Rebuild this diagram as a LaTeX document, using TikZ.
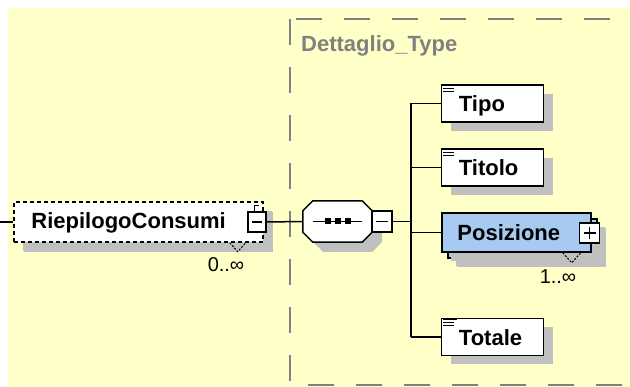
\documentclass[tikz,border=0pt]{standalone}
\usepackage{fontspec}
\setmainfont{Liberation Sans}
\usetikzlibrary{shadows}

\definecolor{bgyellow}{RGB}{255,255,200}
\definecolor{shadegray}{RGB}{192,192,192}
\definecolor{framegray}{RGB}{128,128,128}
\definecolor{posblue}{RGB}{166,202,240}

\tikzset{
  elem/.style={draw, line width=1.5pt, fill=white, inner sep=0pt,
    minimum width=102pt, minimum height=37pt,
    drop shadow={shadow xshift=9pt, shadow yshift=-9pt, opacity=1, fill=shadegray}},
  elemtext/.style={anchor=base west, inner sep=0pt, font=\fontsize{22}{24}\selectfont\bfseries},
  conn/.style={line width=1.5pt},
  pmbox/.style={draw, line width=1.2pt, fill=white, inner sep=0pt,
    minimum width=18pt, minimum height=20pt},
  mult/.style={inner sep=0pt, font=\fontsize{20}{22}\selectfont},
  notch/.style={line width=1pt, dash pattern=on 2pt off 1.5pt},
}

% icona documentazione nell'angolo
\newcommand\docicon[1]{%
  \draw[line width=1.2pt] ([xshift=2pt,yshift=-1.5pt]#1.north west) -- ++(14pt,0);
  \draw[line width=1.2pt] ([xshift=2pt,yshift=-4.5pt]#1.north west) -- ++(11pt,0);
  \draw[line width=1.2pt] ([xshift=2pt,yshift=-7.5pt]#1.north west) -- ++(11pt,0);
}

\begin{document}
\begin{tikzpicture}[x=1pt,y=-1pt]
  \useasboundingbox (0,0) rectangle (630,387);
  \clip (0,0) rectangle (630,387);
  \fill[bgyellow] (8,8) rectangle (630,387);

  % riquadro del tipo complesso
  \draw[framegray, line width=2pt, dash pattern=on 26pt off 22pt] (290,19) rectangle (660,385);
  \node[anchor=west, inner sep=0pt, text=framegray, font=\fontsize{22}{24}\selectfont\bfseries]
    (tiponome) at (301,46) {Dettaglio\_Type};

  % elemento radice
  \coordinate (ingresso) at (0,222);
  \node[elem, dash pattern=on 4pt off 3pt, minimum width=249pt, minimum height=40pt,
    drop shadow={shadow xshift=10pt, shadow yshift=-10pt, opacity=1, fill=shadegray}]
    (riepilogo) at (138.5,222) {};
  \node[elemtext] (riepilogo-t) at ([xshift=18pt,yshift=-7pt]riepilogo.west) {RiepilogoConsumi};
  \draw[notch] ([xshift=-34pt]riepilogo.south east) -- ++(8,9) -- ++(8,-9);
  \node[mult] (riepilogo-m) at (226,265) {0..∞};
  \node[pmbox] (riepilogo-pm) at (257,222) {};
  \draw[line width=1.2pt] ([xshift=-5pt]riepilogo-pm.center) -- ([xshift=5pt]riepilogo-pm.center);
  \draw[line width=1pt] ([xshift=-3pt]riepilogo-pm.north) -- ++(0,-6) -- ++(5,0);

  % sequenza
  \fill[shadegray] (322,211) -- (372,211) -- (382,221) -- (382,242) -- (372,252)
    -- (323,252) -- (313,242) -- (313,221) -- cycle;
  \node[minimum width=69pt, minimum height=41pt, inner sep=0pt] (seq) at (337.5,221.5) {};
  \draw[line width=1.5pt, fill=white]
    ([xshift=10pt]seq.north west) -- ([xshift=-10pt]seq.north east)
    -- ([yshift=-10pt]seq.north east) -- ([yshift=10pt]seq.south east)
    -- ([xshift=-10pt]seq.south east) -- ([xshift=10pt]seq.south west)
    -- ([yshift=10pt]seq.south west) -- ([yshift=-10pt]seq.north west) -- cycle;
  \draw[line width=1.2pt] ([xshift=10pt]seq.west) -- ([xshift=-10pt]seq.east);
  \foreach \dx in {-10,0,10}
    \fill ([xshift=\dx pt]seq.center) ++(-3,-3) rectangle ++(6,6);
  \node[pmbox, minimum width=20pt, minimum height=21pt] (seq-pm) at (382,221.5) {};
  \draw[line width=1.2pt] ([xshift=-6pt]seq-pm.center) -- ([xshift=6pt]seq-pm.center);

  % elementi figli
  \node[elem] (tipo) at (492.5,103.5) {};
  \node[elem] (titolo) at (492.5,167.5) {};
  \node[elem, fill=posblue, minimum width=149pt, minimum height=39pt,
    drop shadow={shadow xshift=8pt, shadow yshift=-8pt, opacity=1, fill=shadegray}]
    (posizione-dietro) at (522.5,238.5) {};
  \node[elem, fill=posblue, minimum width=149pt, minimum height=39pt, drop shadow={opacity=0}]
    (posizione) at (516.5,232.5) {};
  \node[elem] (totale) at (492.5,337) {};

  \node[elemtext] (tipo-t) at ([xshift=18pt,yshift=-8.5pt]tipo.west) {Tipo};
  \node[elemtext] (titolo-t) at ([xshift=18pt,yshift=-8.5pt]titolo.west) {Titolo};
  \node[elemtext] (posizione-t) at ([xshift=16pt,yshift=-8.5pt]posizione.west) {Posizione};
  \node[elemtext] (totale-t) at ([xshift=18pt,yshift=-8.5pt]totale.west) {Totale};
  \docicon{tipo}
  \docicon{titolo}
  \docicon{totale}

  \draw[notch] ([xshift=-29pt]posizione.south east) -- ++(9,10) -- ++(9,-10);
  \node[mult] (posizione-m) at (558,277) {1..∞};
  \node[pmbox, minimum width=20pt] (posizione-pm) at (589.5,233) {};
  \draw[line width=1.2pt] ([xshift=-6pt]posizione-pm.center) -- ([xshift=6pt]posizione-pm.center);
  \draw[line width=1.2pt] ([yshift=-6pt]posizione-pm.center) -- ([yshift=6pt]posizione-pm.center);

  % collegamenti
  \coordinate (bus) at (411,221.5);
  \draw[conn] (ingresso) -- (riepilogo.west);
  \draw[conn] (riepilogo-pm.east) -- (seq.west);
  \draw[conn] (seq-pm.east) -- (bus);
  \draw[conn] (tipo.west -| bus) -- (totale.west -| bus);
  \foreach \figlio in {tipo, titolo, posizione, totale}
    \draw[conn] (\figlio.west -| bus) -- (\figlio.west);
\end{tikzpicture}
\end{document}
